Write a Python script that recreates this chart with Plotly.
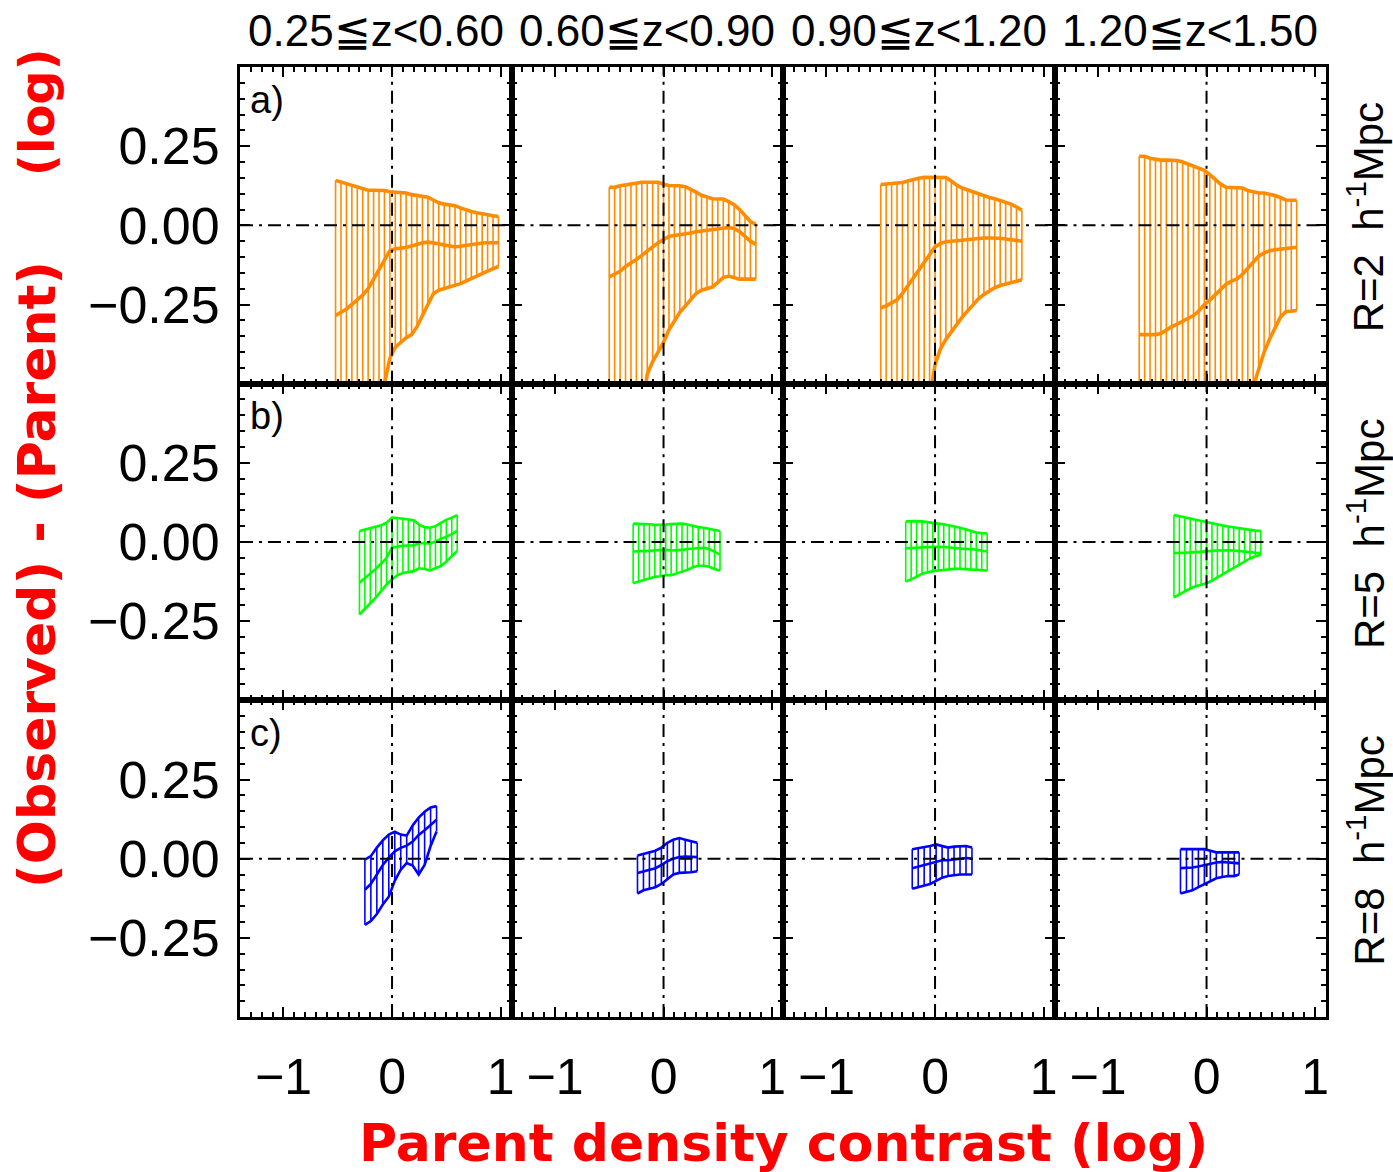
import plotly.graph_objects as go
from plotly.subplots import make_subplots

col_titles = ["0.25≦z<0.60", "0.60≦z<0.90", "0.90≦z<1.20", "1.20≦z<1.50"]
row_labels = ["R=2  h<sup>-1</sup>Mpc", "R=5  h<sup>-1</sup>Mpc", "R=8  h<sup>-1</sup>Mpc"]
panel_letters = ["a)", "b)", "c)"]
row_colors = ["#FF8C00", "#00FF00", "#0000FF"]
x_tick_vals = [-1, 0, 1]
y_tick_vals = [-0.25, 0.0, 0.25]

# ---------------- row a (R=2) ----------------
x_a1 = [-0.52, -0.47, -0.42, -0.37, -0.32, -0.27, -0.22, -0.17, -0.12, -0.07, -0.02, 0.03, 0.08, 0.13, 0.18, 0.23,
        0.28, 0.33, 0.38, 0.43, 0.48, 0.53, 0.58, 0.63, 0.68, 0.73, 0.78, 0.83, 0.88, 0.93, 0.98]
up_a1 = [0.142, 0.137, 0.132, 0.126, 0.121, 0.115, 0.111, 0.111, 0.110, 0.110, 0.106, 0.105, 0.105, 0.102, 0.097, 0.094,
         0.092, 0.089, 0.080, 0.071, 0.067, 0.064, 0.062, 0.055, 0.048, 0.044, 0.040, 0.036, 0.033, 0.030, 0.028]
mid_a1 = [-0.285, -0.275, -0.264, -0.250, -0.236, -0.220, -0.200, -0.170, -0.140, -0.110, -0.080, -0.074, -0.072, -0.070,
          -0.065, -0.060, -0.055, -0.053, -0.055, -0.058, -0.062, -0.066, -0.068, -0.066, -0.063, -0.060, -0.057, -0.056,
          -0.055, -0.055, -0.055]
lo_a1 = [-0.95, -0.90, -0.85, -0.80, -0.75, -0.70, -0.65, -0.60, -0.56, -0.50, -0.42, -0.385, -0.370, -0.355, -0.345,
         -0.320, -0.285, -0.250, -0.216, -0.205, -0.200, -0.195, -0.190, -0.184, -0.176, -0.168, -0.158, -0.150, -0.143,
         -0.137, -0.130]

x_a2 = [-0.50, -0.45, -0.40, -0.35, -0.30, -0.25, -0.20, -0.15, -0.10, -0.05, 0.00, 0.05, 0.10, 0.15, 0.20, 0.25, 0.30,
        0.35, 0.40, 0.45, 0.50, 0.55, 0.60, 0.65, 0.70, 0.75, 0.80, 0.85]
up_a2 = [0.120, 0.120, 0.125, 0.128, 0.130, 0.133, 0.136, 0.136, 0.136, 0.136, 0.130, 0.126, 0.125, 0.125, 0.122, 0.115,
         0.105, 0.095, 0.088, 0.084, 0.083, 0.083, 0.075, 0.065, 0.050, 0.030, 0.012, 0.003]
mid_a2 = [-0.163, -0.155, -0.145, -0.130, -0.120, -0.108, -0.095, -0.080, -0.068, -0.055, -0.045, -0.035, -0.032, -0.030,
          -0.027, -0.024, -0.020, -0.018, -0.016, -0.014, -0.012, -0.008, -0.007, -0.010, -0.020, -0.035, -0.050, -0.060]
lo_a2 = [-1.00, -0.95, -0.88, -0.82, -0.76, -0.70, -0.60, -0.47, -0.43, -0.40, -0.37, -0.33, -0.30, -0.275, -0.255,
         -0.235, -0.215, -0.205, -0.200, -0.195, -0.180, -0.165, -0.160, -0.165, -0.170, -0.170, -0.170, -0.170]

x_a3 = [-0.50, -0.45, -0.40, -0.35, -0.30, -0.25, -0.20, -0.15, -0.10, -0.05, 0.00, 0.05, 0.10, 0.15, 0.20, 0.25, 0.30,
        0.35, 0.40, 0.45, 0.50, 0.55, 0.60, 0.65, 0.70, 0.75, 0.80]
up_a3 = [0.129, 0.130, 0.131, 0.132, 0.135, 0.140, 0.145, 0.149, 0.152, 0.152, 0.152, 0.152, 0.151, 0.140, 0.127, 0.118,
         0.112, 0.107, 0.100, 0.092, 0.088, 0.084, 0.079, 0.072, 0.067, 0.058, 0.048]
mid_a3 = [-0.260, -0.255, -0.245, -0.235, -0.215, -0.190, -0.165, -0.142, -0.117, -0.090, -0.068, -0.057, -0.052, -0.050,
          -0.048, -0.046, -0.044, -0.042, -0.041, -0.040, -0.040, -0.040, -0.041, -0.043, -0.046, -0.048, -0.050]
lo_a3 = [-1.00, -0.95, -0.90, -0.85, -0.80, -0.75, -0.70, -0.65, -0.60, -0.55, -0.44, -0.39, -0.36, -0.335, -0.315, -0.29,
         -0.27, -0.25, -0.232, -0.218, -0.206, -0.197, -0.190, -0.186, -0.182, -0.176, -0.172]

x_a4 = [-0.62, -0.57, -0.52, -0.47, -0.42, -0.37, -0.32, -0.27, -0.22, -0.17, -0.12, -0.07, -0.02, 0.03, 0.08, 0.13,
        0.18, 0.23, 0.28, 0.33, 0.38, 0.43, 0.48, 0.53, 0.58, 0.63, 0.68, 0.73, 0.78, 0.83]
up_a4 = [0.218, 0.218, 0.212, 0.208, 0.206, 0.206, 0.206, 0.205, 0.200, 0.193, 0.187, 0.180, 0.174, 0.160, 0.144, 0.130,
         0.120, 0.119, 0.119, 0.118, 0.110, 0.106, 0.102, 0.102, 0.099, 0.094, 0.088, 0.080, 0.079, 0.079]
mid_a4 = [-0.345, -0.345, -0.345, -0.345, -0.342, -0.330, -0.320, -0.312, -0.303, -0.295, -0.285, -0.270, -0.250, -0.236,
          -0.218, -0.200, -0.186, -0.176, -0.169, -0.155, -0.135, -0.115, -0.097, -0.088, -0.080, -0.077, -0.075, -0.073,
          -0.070, -0.069]
lo_a4 = [-1.00, -1.00, -1.00, -1.00, -1.00, -1.00, -1.00, -1.00, -1.00, -1.00, -0.96, -0.92, -0.88, -0.84, -0.80, -0.76,
         -0.72, -0.68, -0.64, -0.60, -0.56, -0.51, -0.455, -0.40, -0.36, -0.325, -0.29, -0.273, -0.270, -0.269]

# ---------------- row b (R=5) ----------------
x_b1 = [-0.30, -0.25, -0.20, -0.15, -0.10, -0.05, 0.00, 0.05, 0.10, 0.15, 0.20, 0.25, 0.30, 0.35, 0.40, 0.45, 0.50,
        0.55, 0.60]
up_b1 = [0.035, 0.039, 0.043, 0.048, 0.053, 0.061, 0.077, 0.076, 0.073, 0.070, 0.069, 0.055, 0.047, 0.045, 0.050, 0.060,
         0.070, 0.077, 0.085]
mid_b1 = [-0.129, -0.115, -0.100, -0.085, -0.068, -0.050, -0.018, -0.014, -0.012, -0.011, -0.011, -0.004, -0.003, -0.005,
          0.002, 0.008, 0.017, 0.025, 0.035]
lo_b1 = [-0.229, -0.212, -0.195, -0.176, -0.155, -0.134, -0.118, -0.105, -0.098, -0.094, -0.092, -0.083, -0.085, -0.090,
         -0.083, -0.076, -0.062, -0.045, -0.028]

x_b2 = [-0.28, -0.23, -0.18, -0.13, -0.08, -0.03, 0.02, 0.07, 0.12, 0.17, 0.22, 0.27, 0.32, 0.37, 0.42, 0.47, 0.52]
up_b2 = [0.058, 0.058, 0.057, 0.056, 0.054, 0.054, 0.055, 0.057, 0.058, 0.058, 0.055, 0.050, 0.047, 0.045, 0.042, 0.038,
         0.035]
mid_b2 = [-0.030, -0.030, -0.030, -0.028, -0.026, -0.025, -0.025, -0.027, -0.027, -0.025, -0.022, -0.020, -0.018, -0.018,
          -0.022, -0.030, -0.040]
lo_b2 = [-0.130, -0.125, -0.120, -0.115, -0.110, -0.108, -0.105, -0.105, -0.100, -0.095, -0.088, -0.080, -0.075, -0.075,
         -0.078, -0.085, -0.090]

x_b3 = [-0.27, -0.22, -0.17, -0.12, -0.07, -0.02, 0.03, 0.08, 0.13, 0.18, 0.23, 0.28, 0.33, 0.38, 0.43, 0.48]
up_b3 = [0.065, 0.066, 0.066, 0.065, 0.062, 0.060, 0.058, 0.056, 0.053, 0.050, 0.045, 0.040, 0.035, 0.030, 0.028, 0.027]
mid_b3 = [-0.020, -0.020, -0.018, -0.017, -0.016, -0.015, -0.015, -0.016, -0.018, -0.020, -0.022, -0.022, -0.022, -0.025,
          -0.028, -0.030]
lo_b3 = [-0.125, -0.118, -0.110, -0.100, -0.095, -0.092, -0.090, -0.088, -0.086, -0.085, -0.085, -0.086, -0.088, -0.090,
         -0.090, -0.090]

x_b4 = [-0.30, -0.25, -0.20, -0.15, -0.10, -0.05, 0.00, 0.05, 0.10, 0.15, 0.20, 0.25, 0.30, 0.35, 0.40, 0.45, 0.50]
up_b4 = [0.085, 0.082, 0.078, 0.074, 0.070, 0.066, 0.062, 0.058, 0.055, 0.052, 0.049, 0.046, 0.043, 0.040, 0.038, 0.036,
         0.035]
mid_b4 = [-0.035, -0.035, -0.034, -0.033, -0.032, -0.030, -0.030, -0.028, -0.027, -0.026, -0.026, -0.027, -0.028, -0.030,
          -0.032, -0.034, -0.035]
lo_b4 = [-0.175, -0.165, -0.155, -0.147, -0.140, -0.135, -0.130, -0.122, -0.112, -0.102, -0.092, -0.082, -0.072, -0.062,
         -0.052, -0.045, -0.040]

# ---------------- row c (R=8) ----------------
x_c1 = [-0.25, -0.195, -0.14, -0.085, -0.03, 0.025, 0.08, 0.135, 0.19, 0.245, 0.30, 0.355, 0.41]
up_c1 = [-0.003, 0.008, 0.035, 0.058, 0.076, 0.085, 0.076, 0.073, 0.105, 0.130, 0.148, 0.162, 0.166]
mid_c1 = [-0.098, -0.080, -0.050, -0.020, 0.003, 0.023, 0.034, 0.041, 0.054, 0.075, 0.090, 0.108, 0.123]
lo_c1 = [-0.209, -0.197, -0.175, -0.145, -0.120, -0.070, -0.035, -0.014, -0.022, -0.050, -0.020, 0.040, 0.086]

x_c2 = [-0.24, -0.185, -0.13, -0.075, -0.02, 0.035, 0.09, 0.145, 0.20, 0.255, 0.31]
up_c2 = [0.010, 0.015, 0.020, 0.025, 0.035, 0.050, 0.060, 0.065, 0.060, 0.055, 0.050]
mid_c2 = [-0.045, -0.040, -0.035, -0.030, -0.020, -0.008, 0.000, 0.005, 0.007, 0.006, 0.005]
lo_c2 = [-0.110, -0.100, -0.095, -0.090, -0.080, -0.065, -0.050, -0.045, -0.045, -0.043, -0.040]

x_c3 = [-0.21, -0.155, -0.10, -0.045, 0.01, 0.065, 0.12, 0.175, 0.23, 0.285, 0.34]
up_c3 = [0.030, 0.033, 0.035, 0.040, 0.045, 0.040, 0.035, 0.038, 0.040, 0.040, 0.035]
mid_c3 = [-0.030, -0.025, -0.020, -0.015, -0.008, -0.005, -0.005, -0.003, 0.000, 0.002, 0.000]
lo_c3 = [-0.095, -0.090, -0.085, -0.080, -0.070, -0.060, -0.055, -0.052, -0.050, -0.050, -0.050]

x_c4 = [-0.24, -0.185, -0.13, -0.075, -0.02, 0.035, 0.09, 0.145, 0.20, 0.255, 0.30]
up_c4 = [0.030, 0.030, 0.030, 0.030, 0.030, 0.025, 0.020, 0.020, 0.020, 0.020, 0.020]
mid_c4 = [-0.030, -0.030, -0.028, -0.025, -0.020, -0.015, -0.012, -0.010, -0.012, -0.015, -0.015]
lo_c4 = [-0.110, -0.105, -0.100, -0.090, -0.080, -0.070, -0.062, -0.058, -0.055, -0.055, -0.050]

panels = [
    [(x_a1, up_a1, mid_a1, lo_a1), (x_a2, up_a2, mid_a2, lo_a2), (x_a3, up_a3, mid_a3, lo_a3), (x_a4, up_a4, mid_a4, lo_a4)],
    [(x_b1, up_b1, mid_b1, lo_b1), (x_b2, up_b2, mid_b2, lo_b2), (x_b3, up_b3, mid_b3, lo_b3), (x_b4, up_b4, mid_b4, lo_b4)],
    [(x_c1, up_c1, mid_c1, lo_c1), (x_c2, up_c2, mid_c2, lo_c2), (x_c3, up_c3, mid_c3, lo_c3), (x_c4, up_c4, mid_c4, lo_c4)],
]

line_w = [3.6, 2.6, 2.6]
bar_w = [1.6, 1.6, 1.6]

fig = make_subplots(rows=3, cols=4, horizontal_spacing=0, vertical_spacing=0)

for r in range(3):
    color = row_colors[r]
    for c in range(4):
        x, up, mid, lo = panels[r][c]
        fig.add_trace(go.Scatter(
            x=x, y=mid, mode="lines", line=dict(color=color, width=line_w[r]),
            error_y=dict(type="data", symmetric=False,
                         array=[u - m for u, m in zip(up, mid)],
                         arrayminus=[m - l for m, l in zip(mid, lo)],
                         width=0, thickness=bar_w[r], color=color),
            showlegend=False, hoverinfo="skip"), row=r + 1, col=c + 1)
        fig.add_trace(go.Scatter(x=x, y=up, mode="lines", line=dict(color=color, width=line_w[r]),
                                 showlegend=False, hoverinfo="skip"), row=r + 1, col=c + 1)
        fig.add_trace(go.Scatter(x=x, y=lo, mode="lines", line=dict(color=color, width=line_w[r]),
                                 showlegend=False, hoverinfo="skip"), row=r + 1, col=c + 1)
        idx = r * 4 + c + 1
        xr = "x" if idx == 1 else f"x{idx}"
        yr = "y" if idx == 1 else f"y{idx}"
        fig.add_shape(type="line", xref=f"{xr} domain", yref=yr, x0=0, x1=1, y0=0, y1=0,
                      line=dict(color="black", width=2, dash="13px,6px,3px,6px"), layer="above")
        fig.add_shape(type="line", xref=xr, yref=f"{yr} domain", x0=0, x1=0, y0=0, y1=1,
                      line=dict(color="black", width=2, dash="13px,6px,3px,6px"), layer="above")

x_tick_font = dict(family="Liberation Sans", size=50, color="black")
y_tick_font = dict(family="Liberation Sans", size=52, color="black")
fig.update_xaxes(range=[-1.4, 1.1], tickvals=x_tick_vals, ticktext=["−1", "0", "1"],
                 ticks="inside", ticklen=10, tickwidth=2, tickcolor="black",
                 minor=dict(dtick=0.1, ticks="inside", ticklen=5, tickwidth=2, tickcolor="black"),
                 showline=True, linewidth=3, linecolor="black", mirror="allticks",
                 showgrid=False, zeroline=False, showticklabels=False, tickfont=x_tick_font)
fig.update_yaxes(range=[-0.5, 0.5], tickvals=y_tick_vals, tickformat=".2f",
                 ticks="inside", ticklen=10, tickwidth=2, tickcolor="black",
                 minor=dict(dtick=0.05, ticks="inside", ticklen=5, tickwidth=2, tickcolor="black"),
                 showline=True, linewidth=3, linecolor="black", mirror="allticks",
                 showgrid=False, zeroline=False, showticklabels=False, tickfont=y_tick_font)
for c in range(4):
    fig.update_xaxes(showticklabels=True, ticklabelstandoff=14, row=3, col=c + 1)
for r in range(3):
    fig.update_yaxes(showticklabels=True, ticklabelstandoff=7, row=r + 1, col=1)

annotations = []
col_centers = [0.125, 0.375, 0.625, 0.875]
for c in range(4):
    annotations.append(dict(text=col_titles[c], x=col_centers[c], y=1.0, xref="paper", yref="paper",
                            xanchor="center", yanchor="bottom", yshift=10, showarrow=False,
                            font=dict(family="Liberation Sans", size=44, color="black")))
row_centers = [5 / 6, 0.5, 1 / 6]
for r in range(3):
    annotations.append(dict(text=row_labels[r], x=1.0, y=row_centers[r], xref="paper", yref="paper",
                            xanchor="center", yanchor="middle", xshift=40, yshift=8, textangle=-90, showarrow=False,
                            font=dict(family="Liberation Sans", size=42, color="black")))
    idx = r * 4 + 1
    xr = "x" if idx == 1 else f"x{idx}"
    yr = "y" if idx == 1 else f"y{idx}"
    annotations.append(dict(text=panel_letters[r], x=0.03, y=0.97, xref=f"{xr} domain", yref=f"{yr} domain",
                            xanchor="left", yanchor="top", showarrow=False,
                            font=dict(family="Liberation Sans", size=38, color="black")))

annotations.append(dict(text="<b>Parent density contrast (log)</b>", x=0.5, y=0, xref="paper", yref="paper",
                        xanchor="center", yanchor="top", yshift=-94, showarrow=False,
                        font=dict(family="DejaVu Sans", size=52, color="#FF0000")))
annotations.append(dict(text="<b>(Observed) - (Parent)</b>", x=0, y=(1017 - 575) / 950, xref="paper", yref="paper",
                        xanchor="center", yanchor="middle", xshift=-203, textangle=-90, showarrow=False,
                        font=dict(family="DejaVu Sans", size=52, color="#FF0000")))
annotations.append(dict(text="<b>(log)</b>", x=0, y=(1017 - 112) / 950, xref="paper", yref="paper",
                        xanchor="center", yanchor="middle", xshift=-203, textangle=-90, showarrow=False,
                        font=dict(family="DejaVu Sans", size=48, color="#FF0000")))

fig.update_layout(width=1393, height=1172, margin=dict(l=240, r=67, t=67, b=155),
                  paper_bgcolor="white", plot_bgcolor="white", annotations=annotations)

fig.write_html("out.html", config={"displayModeBar": False},
               post_script="document.body.style.margin='0px';document.body.style.overflow='hidden';")
